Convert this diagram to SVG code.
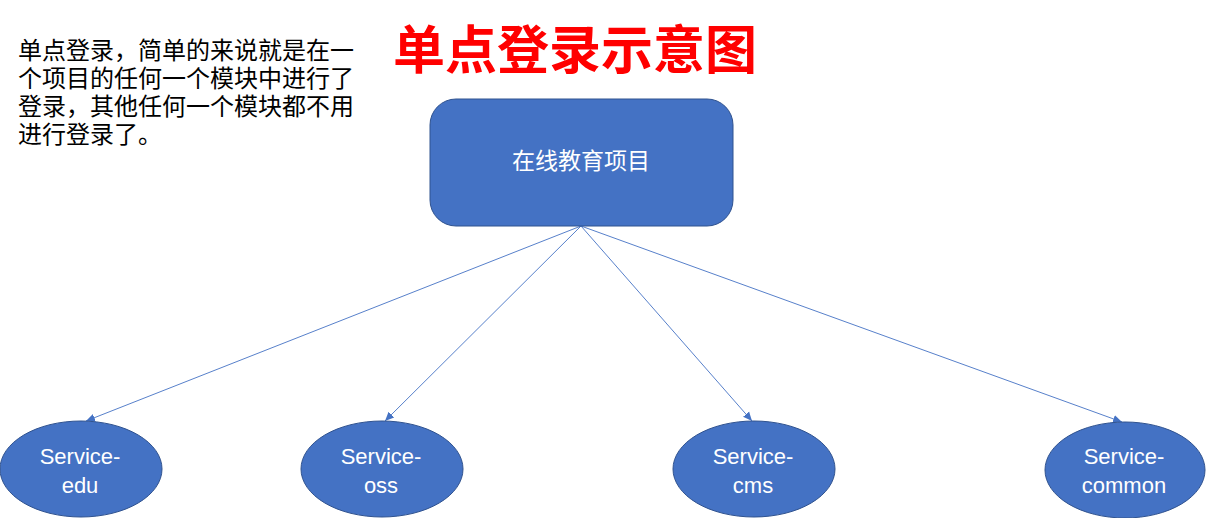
<svg xmlns="http://www.w3.org/2000/svg" width="1207" height="518" viewBox="0 0 1207 518">
<style>
.note{font-family:"Noto Sans CJK SC","Liberation Sans",sans-serif;font-size:24px;fill:#000}
.title{font-family:"Noto Sans CJK SC","Liberation Sans",sans-serif;font-size:52px;font-weight:bold;fill:#FF0000}
.box{fill:#4472C4;stroke:#2F528F;stroke-width:1}
.lbl{font-family:"Noto Sans CJK SC","Liberation Sans",sans-serif;font-size:23px;fill:#FFFFFF;text-anchor:middle}
.svc{font-family:"Liberation Sans","Noto Sans CJK SC",sans-serif;font-size:22px;fill:#FFFFFF;text-anchor:middle}
.edge{stroke:#4472C4;stroke-width:0.9;fill:none;marker-end:url(#arr)}
</style>
<defs>
<marker id="arr" markerUnits="userSpaceOnUse" markerWidth="10" markerHeight="10" viewBox="0 0 10 10" refX="9" refY="5" orient="auto">
<path d="M0,1 L9,5 L0,9 Z" fill="#4472C4"/>
</marker>
</defs>
<rect width="1207" height="518" fill="#FFFFFF"/>
<g id="note">
<text class="note" x="18" y="59"><tspan x="18" y="59">单点登录，简单的来说就是在一</tspan><tspan x="18" y="87">个项目的任何一个模块中进行了</tspan><tspan x="18" y="115">登录，其他任何一个模块都不用</tspan><tspan x="18" y="143">进行登录了。</tspan></text>
</g>
<g id="title">
<text class="title" x="393" y="69">单点登录示意图</text>
</g>
<g id="connectors">
<line class="edge" x1="581" y1="226" x2="86" y2="421"/>
<line class="edge" x1="581" y1="226" x2="385" y2="421"/>
<line class="edge" x1="581" y1="226" x2="752" y2="421"/>
<line class="edge" x1="581" y1="226" x2="1122" y2="422"/>
</g>
<g id="project">
<rect class="box" x="430" y="99" width="303" height="127" rx="26" ry="26"/>
<text class="lbl" x="581" y="169">在线教育项目</text>
</g>
<g id="service-edu">
<ellipse class="box" cx="81" cy="469" rx="81" ry="48"/>
<text class="svc" x="80" y="464">Service-</text>
<text class="svc" x="80" y="493">edu</text>
</g>
<g id="service-oss">
<ellipse class="box" cx="382" cy="469" rx="81" ry="48"/>
<text class="svc" x="381" y="464">Service-</text>
<text class="svc" x="381" y="493">oss</text>
</g>
<g id="service-cms">
<ellipse class="box" cx="754" cy="469" rx="81" ry="48"/>
<text class="svc" x="753" y="464">Service-</text>
<text class="svc" x="753" y="493">cms</text>
</g>
<g id="service-common">
<ellipse class="box" cx="1125" cy="470" rx="80" ry="48"/>
<text class="svc" x="1124" y="464">Service-</text>
<text class="svc" x="1124" y="493">common</text>
</g>
</svg>
